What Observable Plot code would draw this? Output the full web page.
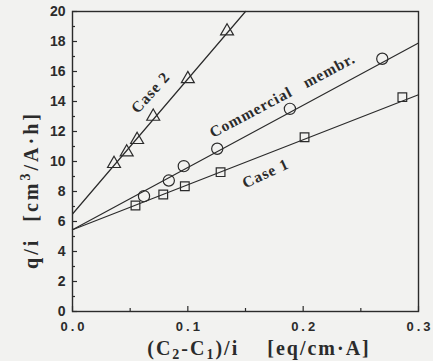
<!DOCTYPE html>
<html><head><meta charset="utf-8">
<script src="https://cdn.jsdelivr.net/npm/d3@7"></script>
<script src="https://cdn.jsdelivr.net/npm/@observablehq/plot@0.6"></script>
<style>
html,body{margin:0;padding:0;background:#f2f2f0;}
</style></head><body><div id="chart"></div>
<script>
// Data
const case2X = [0.036, 0.047, 0.056, 0.070, 0.100, 0.134];
const case2Y = [9.85, 10.62, 11.45, 13.0, 15.51, 18.69];
const commX = [0.062, 0.0835, 0.0965, 0.1255, 0.1885, 0.2686];
const commY = [7.69, 8.73, 9.69, 10.85, 13.51, 16.85];
const case1X = [0.0546, 0.0787, 0.0974, 0.1284, 0.2012, 0.286];
const case1Y = [7.07, 7.8, 8.35, 9.29, 11.62, 14.29];
// fitted lines (end points)
const case2LineX = [0, 0.150];
const case2LineY = [6.5, 20];
const commLineX = [0, 0.3];
const commLineY = [5.45, 17.9];
const case1LineX = [0, 0.3];
const case1LineY = [5.45, 14.45];
// curve labels
const labelText = ["Case 2", "Commercial\u00a0\u00a0\u00a0membr.", "Case 1"];
const labelX = [0.0677, 0.182, 0.1674];
const labelY = [14.6, 14.4, 9.2];
const labelAngle = [-48, -28, -25];
// axes
const xTicks = [0, 0.1, 0.2, 0.3];
const xMinor = [0.05, 0.15, 0.25];
const yTicks = [0, 2, 4, 6, 8, 10, 12, 14, 16, 18, 20];
const yMinor = [1, 3, 5, 7, 9, 11, 13, 15, 17, 19];

const ink = "#2b2b2b";
const bg = "#f2f2f0";
const W = 433, H = 361, mL = 72, mR = 15, mT = 11, mB = 50;
const fw = W - mL - mR, fh = H - mT - mB;

const pts = (xs, ys) => xs.map((x, i) => ({x, y: ys[i]}));
const serif = "'Liberation Serif', 'Times New Roman', serif";
const sans = "'Liberation Sans', Arial, sans-serif";

const chart = Plot.plot({
  width: W, height: H,
  marginLeft: mL, marginRight: mR, marginTop: mT, marginBottom: mB,
  style: {background: bg, color: ink},
  x: {domain: [0, 0.3]},
  y: {domain: [0, 20]},
  marks: [
    Plot.tickX(xTicks, {x: d => d, insetTop: fh - 5, stroke: ink, strokeWidth: 1.2}),
    Plot.tickX(xMinor, {x: d => d, insetTop: fh - 3, stroke: ink, strokeWidth: 1.2}),
    Plot.tickY(yTicks, {y: d => d, insetRight: fw - 5, stroke: ink, strokeWidth: 1.2}),
    Plot.tickY(yMinor, {y: d => d, insetRight: fw - 3, stroke: ink, strokeWidth: 1.2}),
    Plot.line(pts(case2LineX, case2LineY), {x: "x", y: "y", stroke: ink, strokeWidth: 1.2}),
    Plot.line(pts(commLineX, commLineY), {x: "x", y: "y", stroke: ink, strokeWidth: 1.2}),
    Plot.line(pts(case1LineX, case1LineY), {x: "x", y: "y", stroke: ink, strokeWidth: 1.2}),
    Plot.dot(pts(case2X, case2Y), {x: "x", y: "y", symbol: "triangle", r: 4.8, stroke: ink, strokeWidth: 1.2, fill: "none"}),
    Plot.dot(pts(commX, commY), {x: "x", y: "y", symbol: "circle", r: 5.6, stroke: ink, strokeWidth: 1.2, fill: "none"}),
    Plot.dot(pts(case1X, case1Y), {x: "x", y: "y", symbol: "square", r: 4.9, stroke: ink, strokeWidth: 1.2, fill: "none"}),
    Plot.text(labelText.map((t, i) => ({t, x: labelX[i], y: labelY[i], a: labelAngle[i]})), {
      x: "x", y: "y", text: "t", rotate: "a", fill: ink, fontSize: 15.5, fontWeight: "bold", fontFamily: serif
    }),
    Plot.frame({stroke: ink, strokeWidth: 1.4}),
    Plot.axisX({ticks: xTicks, tickSize: 0, tickPadding: 10, tickFormat: d3.format(".1f"), label: null,
      fontSize: 13, fontWeight: "bold", fontFamily: sans}),
    Plot.axisY({ticks: yTicks, tickSize: 0, tickPadding: 7, label: null,
      fontSize: 14, fontWeight: "bold", fontFamily: sans})
  ]
});

const svg = d3.select(chart);
svg.selectAll('g[aria-label="x-axis tick label"] text').attr("letter-spacing", "3px").attr("dx", "1.5px");
svg.selectAll('g[aria-label="text"] text').attr("letter-spacing", "1px");

// axis titles with sub/superscripts
const xt = svg.append("text")
  .attr("x", 259).attr("y", 355)
  .attr("text-anchor", "middle")
  .attr("font-family", serif).attr("font-weight", "bold").attr("font-size", 20)
  .attr("letter-spacing", "2px")
  .attr("fill", ink)
  .style("white-space", "pre");
xt.append("tspan").text("(C");
xt.append("tspan").attr("font-size", 14).attr("dy", 4).text("2");
xt.append("tspan").attr("dy", -4).text("-C");
xt.append("tspan").attr("font-size", 14).attr("dy", 4).text("1");
xt.append("tspan").attr("dy", -4).text(")/i    [eq/cm\u00b7A]");

const yt = svg.append("text")
  .attr("transform", "translate(38,190) rotate(-90)")
  .attr("text-anchor", "middle")
  .attr("font-family", serif).attr("font-weight", "bold").attr("font-size", 20)
  .attr("letter-spacing", "3px")
  .attr("fill", ink)
  .style("white-space", "pre");
yt.append("tspan").text("q/i  [cm");
yt.append("tspan").attr("font-size", 14).attr("dy", -8).text("3");
yt.append("tspan").attr("dy", 8).text("/A\u00b7h]");

document.getElementById("chart").appendChild(chart);
</script></body></html>
